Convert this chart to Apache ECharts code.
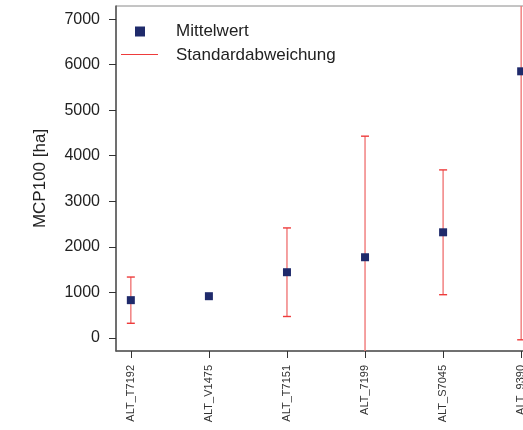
<!DOCTYPE html>
<html>
<head>
<meta charset="UTF-8">
<title></title>
<script src="https://cdn.jsdelivr.net/npm/echarts@6/dist/echarts.min.js"></script>
<style>
  html, body { margin: 0; padding: 0; background: #fff; }
  #main { width: 523px; height: 430px; }
</style>
</head>
<body>
<div id="main"></div>
<script type="text/javascript">
var categories = ['ALT_T7192', 'ALT_V1475', 'ALT_T7151', 'ALT_7199', 'ALT_S7045', 'ALT_9390'];
var meanValues = [827, 914, 1441, 1770, 2318, 5855];
var stdValues = [508, 0, 973, 2660, 1371, 5899];
var yTicks = [0, 1000, 2000, 3000, 4000, 5000, 6000, 7000];

var meanData = []
var errData = []
categories.forEach(function (c, i) {
    meanData.push([i, meanValues[i]])
    if (stdValues[i] > 0) {
        errData.push([i, meanValues[i] - stdValues[i], meanValues[i] + stdValues[i]])
    }
})

var myChart = echarts.init(document.getElementById('main'));
var option = {
    animation: false,
    textStyle: { fontFamily: 'Liberation Sans, Arial, sans-serif' },
    grid: {
        left: 116, top: 6, width: 420, height: 345,
        outerBoundsMode: 'none',
        show: true, borderColor: '#8a8a8a', borderWidth: 1
    },
    legend: [{
        data: ['Mittelwert'],
        left: 130, top: 18,
        icon: 'rect', itemWidth: 10, itemHeight: 10,
        textStyle: { fontSize: 17, color: '#222', padding: [0, 0, 0, 26] }
    }, {
        data: ['Standardabweichung'],
        left: 116, top: 42,
        icon: 'rect', itemWidth: 37, itemHeight: 2,
        itemStyle: { opacity: 0 },
        textStyle: { fontSize: 17, color: '#222', padding: [0, 0, 0, 13] }
    }],
    // legend line icon for the error bars
    graphic: [{
        type: 'line',
        shape: { x1: 121, y1: 54.5, x2: 158, y2: 54.5 },
        style: { stroke: '#ee3b3b', lineWidth: 1 },
        z: 100
    }],
    xAxis: {
        type: 'value',
        min: -0.19, max: 5.19,
        splitLine: { show: false },
        axisLine: { onZero: false, lineStyle: { color: '#555', width: 1.5 } },
        axisTick: { length: 7, customValues: [0, 1, 2, 3, 4, 5], lineStyle: { color: '#333' } },
        axisLabel: {
            customValues: [0, 1, 2, 3, 4, 5],
            rotate: 90, margin: 14, fontSize: 11, color: '#333',
            formatter: function (v) { return categories[Math.round(v)] }
        }
    },
    yAxis: {
        type: 'value',
        min: -290, max: 7290,
        name: 'MCP100 [ha]',
        nameLocation: 'middle', nameGap: 67,
        nameTextStyle: { fontSize: 17, color: '#222' },
        splitLine: { show: false },
        axisLine: { show: true, onZero: false, lineStyle: { color: '#555', width: 1.5 } },
        axisTick: { show: true, length: 7, customValues: yTicks, lineStyle: { color: '#333' } },
        axisLabel: {
            customValues: yTicks, margin: 16, fontSize: 16, color: '#222',
            formatter: function (v) { return String(v) }
        }
    },
    series: [{
        name: 'Standardabweichung',
        type: 'custom',
        clip: true,
        itemStyle: { color: '#ee3b3b' },
        data: errData,
        renderItem: function (params, api) {
            var x = api.value(0)
            var lo = api.coord([x, api.value(1)])
            var hi = api.coord([x, api.value(2)])
            var w = 4
            var st = { stroke: '#f07878', lineWidth: 1.4 }
            return {
                type: 'group',
                children: [
                    { type: 'line', shape: { x1: lo[0], y1: lo[1], x2: hi[0], y2: hi[1] }, style: st },
                    { type: 'line', shape: { x1: lo[0] - w, y1: lo[1], x2: lo[0] + w, y2: lo[1] }, style: { stroke: '#ee3b3b', lineWidth: 1.4 } },
                    { type: 'line', shape: { x1: hi[0] - w, y1: hi[1], x2: hi[0] + w, y2: hi[1] }, style: { stroke: '#ee3b3b', lineWidth: 1.4 } }
                ]
            }
        },
        z: 2
    }, {
        name: 'Mittelwert',
        type: 'scatter',
        symbol: 'rect',
        symbolSize: 8,
        itemStyle: { color: '#1f2a6b', opacity: 1 },
        data: meanData,
        z: 3
    }]
};
myChart.setOption(option);
</script>
</body>
</html>
